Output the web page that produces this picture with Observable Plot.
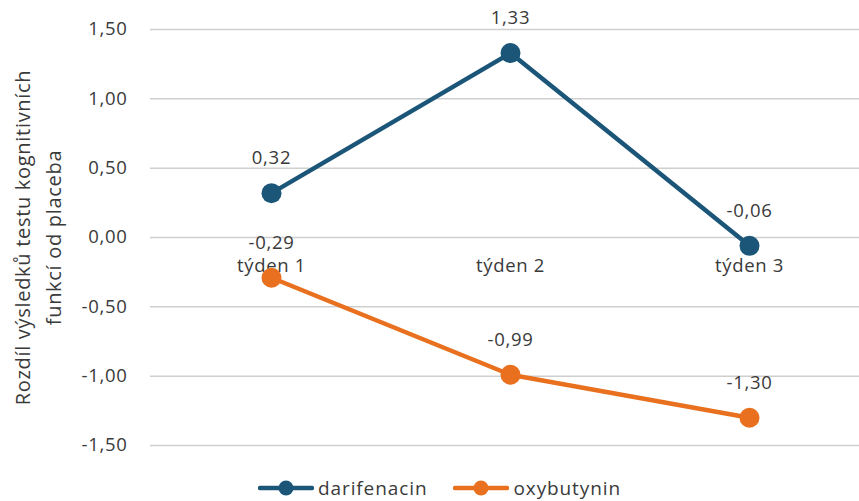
<!DOCTYPE html>
<html>
<head>
<meta charset="utf-8">
<script src="https://cdn.jsdelivr.net/npm/d3@7"></script>
<script src="https://cdn.jsdelivr.net/npm/@observablehq/plot@0.6"></script>
<style>
  html, body { margin: 0; padding: 0; background: #fff; }
  body { width: 859px; height: 501px; overflow: hidden; font-family: "Open Sans", "Liberation Sans", sans-serif; }
  svg text { letter-spacing: 0.7px; }
  svg text.ytitle { letter-spacing: 1px; }
  #legend { display: flex; justify-content: center; gap: 26px; height: 28px; align-items: center; margin-top: 4px; padding-left: 20px; font-size: 19px; line-height: 24px; letter-spacing: 0.9px; color: #3a3a3a; }
  .item { display: flex; align-items: center; gap: 4px; }
</style>
</head>
<body>
<div id="chart"></div>
<div id="legend"></div>
<script>
const weeks = ["týden 1", "týden 2", "týden 3"];
const darifenacin = [0.32, 1.33, -0.06];
const oxybutynin = [-0.29, -0.99, -1.30];
const seriesNames = ["darifenacin", "oxybutynin"];
const colors = ["#1B5679", "#E8701E"];
const yTicks = [-1.5, -1, -0.5, 0, 0.5, 1, 1.5];
const titleLine1 = "Rozdíl výsledků testu kognitivních";
const titleLine2 = "funkcí od placeba";

const data = [];
weeks.forEach((w, i) => {
  data.push({week: w, value: darifenacin[i], series: seriesNames[0]});
  data.push({week: w, value: oxybutynin[i], series: seriesNames[1]});
});

const fmt = v => v.toFixed(2).replace(".", ",");
const textColor = "#3a3a3a";

const chart = Plot.plot({
  width: 859,
  height: 470,
  marginLeft: 150,
  marginRight: 0,
  marginTop: 29,
  marginBottom: 25,
  style: {fontFamily: "'Open Sans', 'Liberation Sans', sans-serif", color: textColor, background: "#fff"},
  x: {type: "point", domain: weeks, range: [270, 749], padding: 0, axis: null},
  y: {domain: [-1.5, 1.5], ticks: yTicks, tickFormat: fmt, label: null},
  color: {domain: seriesNames, range: colors},
  marks: [
    Plot.ruleY(yTicks, {stroke: "#cfcfcf", strokeWidth: 1.5}),
    Plot.axisY({ticks: yTicks, tickFormat: fmt, tickSize: 0, tickPadding: 23, fontSize: 18.5, fill: textColor, label: null}),
    Plot.text([titleLine1], {frameAnchor: "left", textAnchor: "middle", text: d => d, rotate: -90, dx: -127, fontSize: 20, fill: textColor, className: "ytitle"}),
    Plot.text([titleLine2], {frameAnchor: "left", textAnchor: "middle", text: d => d, rotate: -90, dx: -96, fontSize: 20, fill: textColor, className: "ytitle"}),
    Plot.text(weeks, {x: d => d, y: 0, text: d => d, dy: 29, fontSize: 18.5, fill: textColor}),
    Plot.line(data, {x: "week", y: "value", z: "series", stroke: "series", strokeWidth: 4.5}),
    Plot.dot(data, {x: "week", y: "value", fill: "series", r: 10, stroke: null}),
    Plot.text(data, {x: "week", y: "value", text: d => fmt(d.value), dy: -35, fontSize: 18.5, fill: textColor})
  ]
});
document.getElementById("chart").appendChild(chart);

const legend = document.getElementById("legend");
seriesNames.forEach((name, i) => {
  const item = document.createElement("div");
  item.className = "item";
  item.innerHTML = `<svg width="56" height="20"><line x1="2" y1="10" x2="54" y2="10" stroke="${colors[i]}" stroke-width="4.5" stroke-linecap="round"/><circle cx="28" cy="10" r="7.5" fill="${colors[i]}"/></svg><span>${name}</span>`;
  legend.appendChild(item);
});
</script>
</body>
</html>
